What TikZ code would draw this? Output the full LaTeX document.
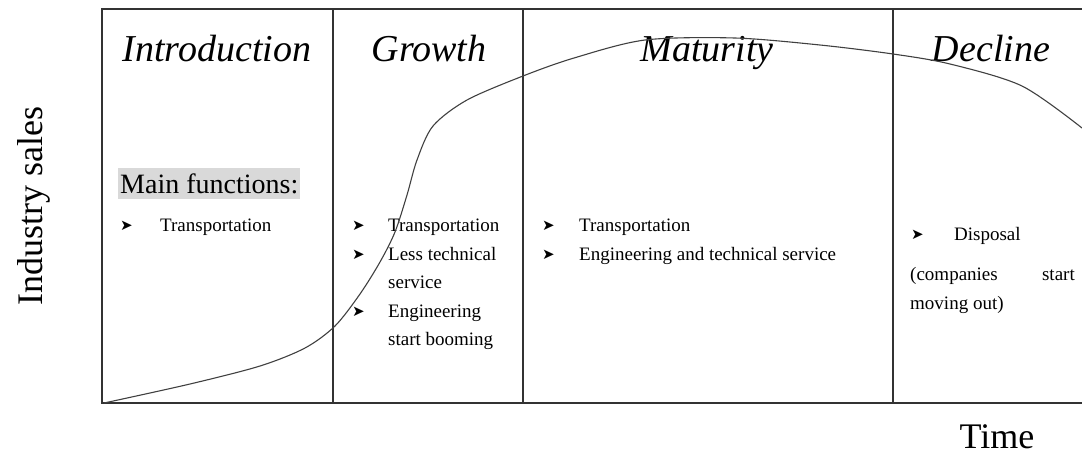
\documentclass[tikz,border=0pt]{standalone}
\usepackage{fontspec}
\setmainfont{Liberation Serif}
\newfontfamily\bulletfont{DejaVu Sans}
\begin{document}
\begin{tikzpicture}[x=1pt,y=-1pt,
  frame/.style={line width=1.3pt, draw=black!80},
  curve/.style={line width=1.1pt, draw=black!75},
  heading/.style={font=\fontsize{38}{42}\selectfont\itshape, anchor=base, inner sep=0},
  item/.style={font=\fontsize{19}{22}\selectfont, anchor=base west, inner sep=0},
  bul/.style={font=\bulletfont\fontsize{15}{17}\selectfont, anchor=base west, inner sep=0},
  axislabel/.style={font=\fontsize{36}{40}\selectfont, inner sep=0, anchor=base}]
\useasboundingbox (0,0) rectangle (1082,456);
% frame
\coordinate (tl) at (102,9);
\coordinate (tr) at (1082,9);
\coordinate (bl) at (102,403);
\coordinate (br) at (1082,403);
\coordinate (d1t) at (333,9);  \coordinate (d1b) at (333,403);
\coordinate (d2t) at (523,9);  \coordinate (d2b) at (523,403);
\coordinate (d3t) at (893,9);  \coordinate (d3b) at (893,403);
\draw[frame] (tr) -- (tl) -- (bl) -- (br);
\draw[frame] (d1t) -- (d1b);
\draw[frame] (d2t) -- (d2b);
\draw[frame] (d3t) -- (d3b);
% headings
\node[heading] (hintro) at (217,61) {Introduction};
\node[heading] (hgrowth) at (429,61) {Growth};
\node[heading] (hmat) at (707,61) {Maturity};
\node[heading] (hdec) at (991,61) {Decline};
% axis labels
\node[axislabel, rotate=90] (ylab) at (42,206) {Industry sales};
\node[axislabel] (xlab) at (997,448) {Time};
% introduction
\node[fill=black!15, anchor=base west, inner xsep=2pt, inner ysep=0pt, text height=25pt, text depth=6pt,
  font=\fontsize{28}{30}\selectfont] (mainf) at (118,193) {Main functions:};
\node[bul] (b1) at (120,230) {➤};
\node[item] (i1) at (160,231) {Transportation};
% growth
\node[bul] (b2) at (352,230) {➤};
\node[item] (g1) at (388,231) {Transportation};
\node[bul] (b3) at (352,259) {➤};
\node[item] (g2) at (388,260) {Less technical};
\node[item] (g3) at (388,288) {service};
\node[bul] (b4) at (352,316) {➤};
\node[item] (g4) at (388,317) {Engineering};
\node[item] (g5) at (388,345) {start booming};
% maturity
\node[bul] (b5) at (542,230) {➤};
\node[item] (m1) at (579,231) {Transportation};
\node[bul] (b6) at (542,259) {➤};
\node[item] (m2) at (579,260) {Engineering and technical service};
% decline
\node[bul] (b7) at (911,239) {➤};
\node[item] (dd1) at (954,240) {Disposal};
\node[item] (dd2) at (910,280) {(companies};
\node[item, anchor=base east] (dd3) at (1075,280) {start};
\node[item] (dd4) at (910,309) {moving out)};
% curve
\draw[curve] plot[smooth, tension=0.5] coordinates {(104,403) (190,384) (260,366) (305,348) (335,326) (360,294) (380,262) (395,232) (407,195) (417,160) (433,126) (467,100) (523,76) (574,58) (645,40) (735,38) (820,45) (893,54) (950,64) (1022,86) (1082,128)};
\end{tikzpicture}
\end{document}
